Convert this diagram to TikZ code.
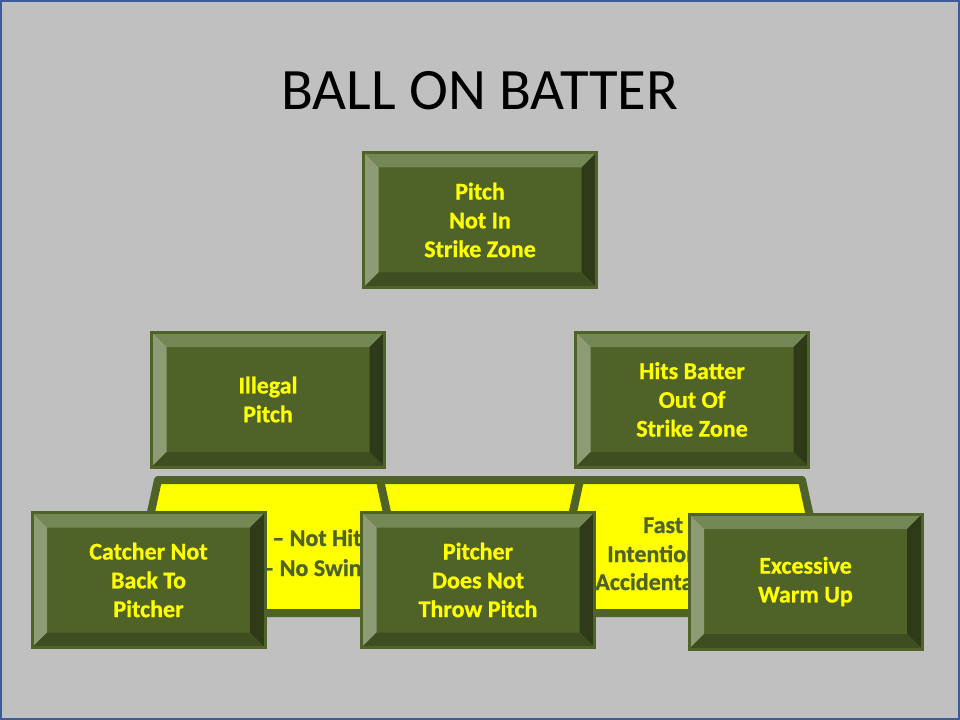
\documentclass[tikz,border=0pt]{standalone}
\usepackage{fontspec}
\setmainfont{Carlito}[BoldFeatures={FakeBold=0.8}]
\usetikzlibrary{calc}
\definecolor{bg}{HTML}{C0C0C0}
\definecolor{frame}{HTML}{3E5D98}
\definecolor{face}{HTML}{4F6228}
\definecolor{bevtop}{HTML}{748856}
\definecolor{bevleft}{HTML}{8D9C74}
\definecolor{bevright}{HTML}{2F3B18}
\definecolor{bevbottom}{HTML}{3F4E20}
\definecolor{ylw}{HTML}{FFFF00}
\tikzset{
  bevelbox/.style={rectangle, minimum width=174.75pt, minimum height=101.25pt,
    inner sep=0pt, fill=face, draw=face, line width=2.25pt, text=ylw,
    font=\bfseries\fontsize{18pt}{21.6pt}\selectfont, align=center,
    path picture={
      \coordinate (NW) at (path picture bounding box.north west);
      \coordinate (NE) at (path picture bounding box.north east);
      \coordinate (SW) at (path picture bounding box.south west);
      \coordinate (SE) at (path picture bounding box.south east);
      \coordinate (nw) at ($(NW)+(15,15)$);
      \coordinate (ne) at ($(NE)+(-15,15)$);
      \coordinate (sw) at ($(SW)+(15,-15)$);
      \coordinate (se) at ($(SE)+(-15,-15)$);
      \fill[bevtop] (NW) -- (NE) -- (ne) -- (nw) -- cycle;
      \fill[bevleft] (NW) -- (nw) -- (sw) -- (SW) -- cycle;
      \fill[bevright] (NE) -- (SE) -- (se) -- (ne) -- cycle;
      \fill[bevbottom] (SW) -- (sw) -- (se) -- (SE) -- cycle;
    }},
  segment/.style={fill=ylw, draw=face, line width=6pt, line join=round},
  segtext/.style={anchor=base west, inner sep=0pt, text=face,
    font=\bfseries\fontsize{18pt}{21.6pt}\selectfont}
}
\begin{document}
\begin{tikzpicture}[x=0.75pt,y=-0.75pt]
\useasboundingbox (0,0) rectangle (960,720);
\fill[bg] (0,0) rectangle (960,720);
\draw[frame, line width=1.5pt] (1,1) rectangle (959,719);

\node[anchor=base, font=\fontsize{44pt}{52.8pt}\selectfont, text=black] (title) at (480,110) {BALL ON BATTER};

% yellow segmented band
\path[segment] (158,480) -- (380,480) -- (409,613) -- (129,613) -- cycle;
\path[segment] (380,480) -- (580,480) -- (551,613) -- (409,613) -- cycle;
\path[segment] (580,480) -- (802,480) -- (831,613) -- (551,613) -- cycle;

\node[segtext] (yl1) at (272,546) {– Not Hit};
\node[segtext] (yl2) at (262,576) {– No Swing};
\node[segtext] (yr1) at (643,533) {Fast};
\node[segtext] (yr2) at (607,562) {Intentional};
\node[segtext] (yr3) at (595,590) {Accidental};

% boxes
\node[bevelbox] (top) at (480,220) {Pitch\\Not In\\Strike Zone};
\node[bevelbox] (illegal) at (268,399.5) {Illegal\\Pitch};
\node[bevelbox] (hits) at (692,399.5) {Hits Batter\\Out Of\\Strike Zone};
\node[bevelbox] (catcher) at (148.5,580) {Catcher Not\\Back To\\Pitcher};
\node[bevelbox] (pitcher) at (478,580) {Pitcher\\Does Not\\Throw Pitch};
\node[bevelbox] (excess) at (805.5,581.5) {Excessive\\Warm Up};
\end{tikzpicture}
\end{document}
